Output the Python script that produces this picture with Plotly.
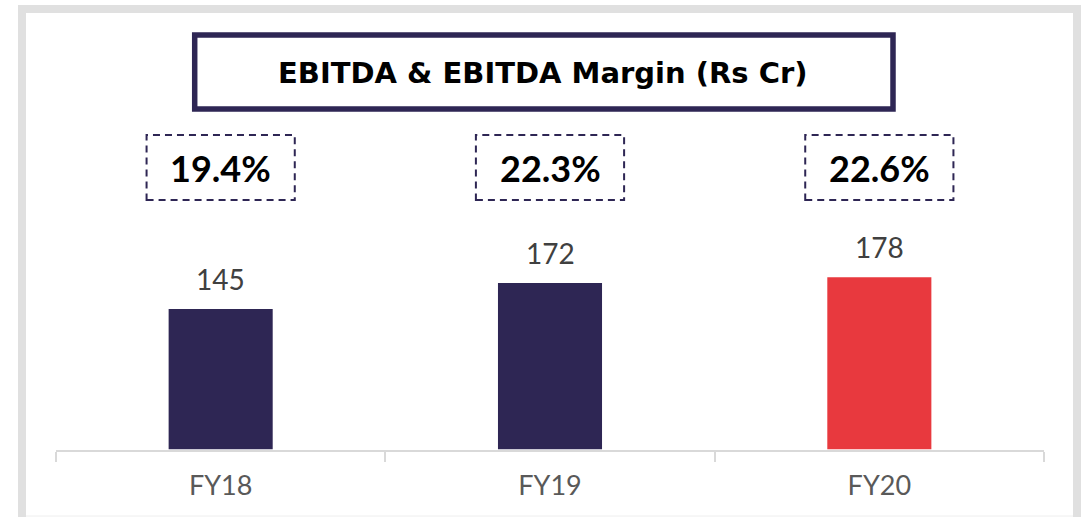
import plotly.graph_objects as go

# data
years = ["FY18", "FY19", "FY20"]
ebitda = [145, 172, 178]
margin_pct = [19.4, 22.3, 22.6]
bar_colors = ["#2e2654", "#2e2654", "#e8393e"]

W, H = 1081, 517
NAVY = "#2e2654"
FONT = "Lato, 'Open Sans', sans-serif"
TITLE_FONT = "'DejaVu Sans', Lato, sans-serif"


def px_x(p):
    return p / W


def px_y(p):
    # pixel from top -> paper y
    return 1 - p / H


fig = go.Figure(
    go.Bar(
        x=years,
        y=ebitda,
        marker=dict(color=bar_colors, line=dict(width=0)),
        width=0.316,
        hoverinfo="x+y",
    )
)

shapes = [
    # outer light-grey frame
    dict(type="rect", xref="paper", yref="paper",
         x0=px_x(22), x1=px_x(1077), y0=px_y(530), y1=px_y(9),
         line=dict(color="#e0e0e0", width=8), layer="below"),
    dict(type="line", xref="paper", yref="paper",
         x0=px_x(26), x1=px_x(1073), y0=px_y(516), y1=px_y(516),
         line=dict(color="#eeeeee", width=1)),
    # title box
    dict(type="rect", xref="paper", yref="paper",
         x0=px_x(194.7), x1=px_x(893), y0=px_y(109), y1=px_y(35),
         line=dict(color=NAVY, width=5.5)),
]

annotations = [
    dict(text="<b>EBITDA & EBITDA Margin (Rs Cr)</b>", xref="paper", yref="paper",
         x=px_x(543), y=px_y(73), xanchor="center", yanchor="middle",
         showarrow=False, font=dict(family=TITLE_FONT, size=29, color="#000000")),
]

for i, (yr, v, m) in enumerate(zip(years, ebitda, margin_pct)):
    # dashed margin box above each bar
    shapes.append(dict(type="rect", xref="x", yref="paper",
                       x0=i - 0.225, x1=i + 0.225, y0=px_y(200), y1=px_y(135),
                       line=dict(color=NAVY, width=2, dash="7px,5px")))
    annotations.append(dict(text=f"<b>{m:.1f}%</b>", xref="x", yref="paper",
                            x=yr, y=px_y(168), xanchor="center", yanchor="middle",
                            showarrow=False,
                            font=dict(family=FONT, size=36, color="#000000")))
    # value label above bar
    annotations.append(dict(text=str(v), xref="x", yref="y", x=yr, y=v,
                            xanchor="center", yanchor="bottom", yshift=11,
                            showarrow=False,
                            font=dict(family=FONT, size=28, color="#404040")))

fig.update_layout(
    width=W, height=H,
    margin=dict(l=0, r=0, t=0, b=0),
    paper_bgcolor="white",
    plot_bgcolor="white",
    showlegend=False,
    shapes=shapes,
    annotations=annotations,
    bargap=0.684,
    xaxis=dict(
        domain=[px_x(56), px_x(1044)],
        automargin=False,
        showline=True, linecolor="#d9d9d9", linewidth=2,
        ticks="outside", tickson="boundaries", ticklen=10, tickwidth=2,
        tickcolor="#d9d9d9",
        tickfont=dict(family=FONT, size=27, color="#595959"),
        ticklabelstandoff=11,
        showgrid=False, zeroline=False, fixedrange=True,
    ),
    yaxis=dict(
        domain=[px_y(449.5), px_y(130)],
        range=[0, 330],
        visible=False, automargin=False, fixedrange=True,
    ),
)

# drop the page's default body margin so the figure sits at the window origin
fig.write_html(
    "out.html",
    config={"displayModeBar": False},
    post_script="document.body.style.margin='0';document.body.style.overflow='hidden';",
)
